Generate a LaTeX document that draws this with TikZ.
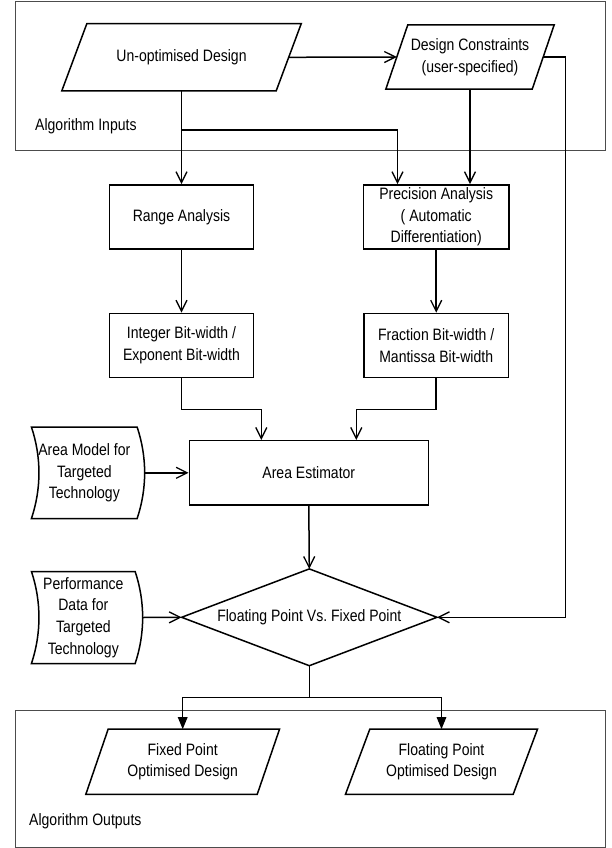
\documentclass[tikz,border=0pt]{standalone}
\usepackage{fontspec}
\setmainfont{Liberation Sans}[FakeStretch=0.85]
\usetikzlibrary{arrows.meta}
\frenchspacing
\begin{document}
\begin{tikzpicture}[x=1pt,y=-1pt,
  every node/.style={font=\fontsize{16.5}{21.6}\selectfont, align=center, inner sep=0pt},
  ln/.style={line width=1.5pt},
  arr/.style={ln, -{Straight Barb[length=11pt,width=11pt,line width=1.3pt]}},
  farr/.style={ln, -{Triangle[length=12pt,width=9.5pt]}},
  grp/.style={draw=black!70, line width=0.9pt},
  holder/.style={rectangle, draw=none, minimum width=#1},
  proc/.style={rectangle, draw, ln, minimum width=#1, minimum height=64.3pt}]
\useasboundingbox (0,0) rectangle (611,848);
% group boxes
\draw[grp] (15,1.5) rectangle (605,150.7);
\draw[grp] (15,710.7) rectangle (605,847);
\node[anchor=west] (inlbl) at (35,126) {Algorithm Inputs};
\node[anchor=west] (outlbl) at (29,821.7) {Algorithm Outputs};
% inputs
\node[holder=239pt, minimum height=66.7pt] (uo) at (181.5,57.3) {Un-optimised Design};
\draw[ln] ([xshift=25pt]uo.north west) -- (uo.north east) -- ([xshift=-25pt]uo.south east) -- (uo.south west) -- cycle;
\node[holder=168pt, minimum height=64pt] (dc) at (470,57) {Design Constraints\\(user-specified)};
\draw[ln] ([xshift=22pt]dc.north west) -- (dc.north east) -- ([xshift=-22pt]dc.south east) -- (dc.south west) -- cycle;
% processes
\node[proc=144pt] (ra) at (181.5,217) {Range Analysis};
\node[proc=145.7pt] (pa) at (436.2,217) {Precision Analysis\\( Automatic\\Differentiation)};
\node[proc=144pt] (ib) at (181.5,345.5) {Integer Bit-width /\\Exponent Bit-width};
\node[proc=144.3pt] (fb) at (436.2,345.5) {Fraction Bit-width /\\Mantissa Bit-width};
\node[proc=239pt] (ae) at (308.8,472.8) {Area Estimator};
% tapes
\node[holder=105.3pt, minimum height=91pt] (am) at (84.3,472.8) {Area Model for\\Targeted\\Technology};
\draw[ln] (am.north west) .. controls +(10,30) and +(10,-30) .. (am.south west) -- (am.south east) .. controls +(10,-30) and +(10,30) .. (am.north east) -- cycle;
\node[holder=103.3pt, minimum height=91.6pt] (pd) at (83.3,617.5) {Performance\\Data for\\Targeted\\Technology};
\draw[ln] (pd.north west) .. controls +(10,30) and +(10,-30) .. (pd.south west) -- (pd.south east) .. controls +(10,-30) and +(10,30) .. (pd.north east) -- cycle;
% decision
\node[holder=255pt, minimum height=96.4pt] (dm) at (309.3,617.3) {Floating Point Vs.\ Fixed Point};
\draw[ln] (dm.north) -- (dm.east) -- (dm.south) -- (dm.west) -- cycle;
% outputs
\node[holder=193.3pt, minimum height=64.7pt] (fx) at (182.7,761.7) {Fixed Point\\Optimised Design};
\draw[ln] ([xshift=22.3pt]fx.north west) -- (fx.north east) -- ([xshift=-22.3pt]fx.south east) -- (fx.south west) -- cycle;
\node[holder=191.6pt, minimum height=64.7pt] (fl) at (441.5,761.7) {Floating Point\\Optimised Design};
\draw[ln] ([xshift=24.3pt]fl.north west) -- (fl.north east) -- ([xshift=-24.3pt]fl.south east) -- (fl.south west) -- cycle;
% coordinates
\coordinate (br) at (181.5,130);
\coordinate (rr) at (565.7,57);
\coordinate (mj) at (181.5,409.3);
\coordinate (dj) at (309.3,697.3);
% connectors
\draw[arr] ([xshift=-12.5pt]uo.east) -- ([xshift=11pt]dc.west);
\draw[arr] (uo.south) -- (ra.north);
\draw[arr] (br) -| ([xshift=-38.7pt]pa.north);
\draw[arr] (dc.south) -- (dc.south |- pa.north);
\draw[arr] ([xshift=-11pt]dc.east) -- (rr) |- (dm.east);
\draw[arr] (ra.south) -- (ib.north);
\draw[arr] (pa.south) -- (fb.north);
\draw[arr] (ib.south) -- (mj) -| ([xshift=-47.5pt]ae.north);
\draw[arr] (fb.south) -- (fb.south |- mj) -| ([xshift=47.5pt]ae.north);
\draw[arr] ([xshift=7.5pt]am.east) -- (ae.west);
\draw[arr] (ae.south) -- (dm.north);
\draw[arr] ([xshift=7.5pt]pd.east) -- (dm.west);
\draw[ln] (dm.south) -- (dj);
\draw[farr] (dj) -| (fx.north);
\draw[farr] (dj) -| (fl.north);
\end{tikzpicture}
\end{document}
